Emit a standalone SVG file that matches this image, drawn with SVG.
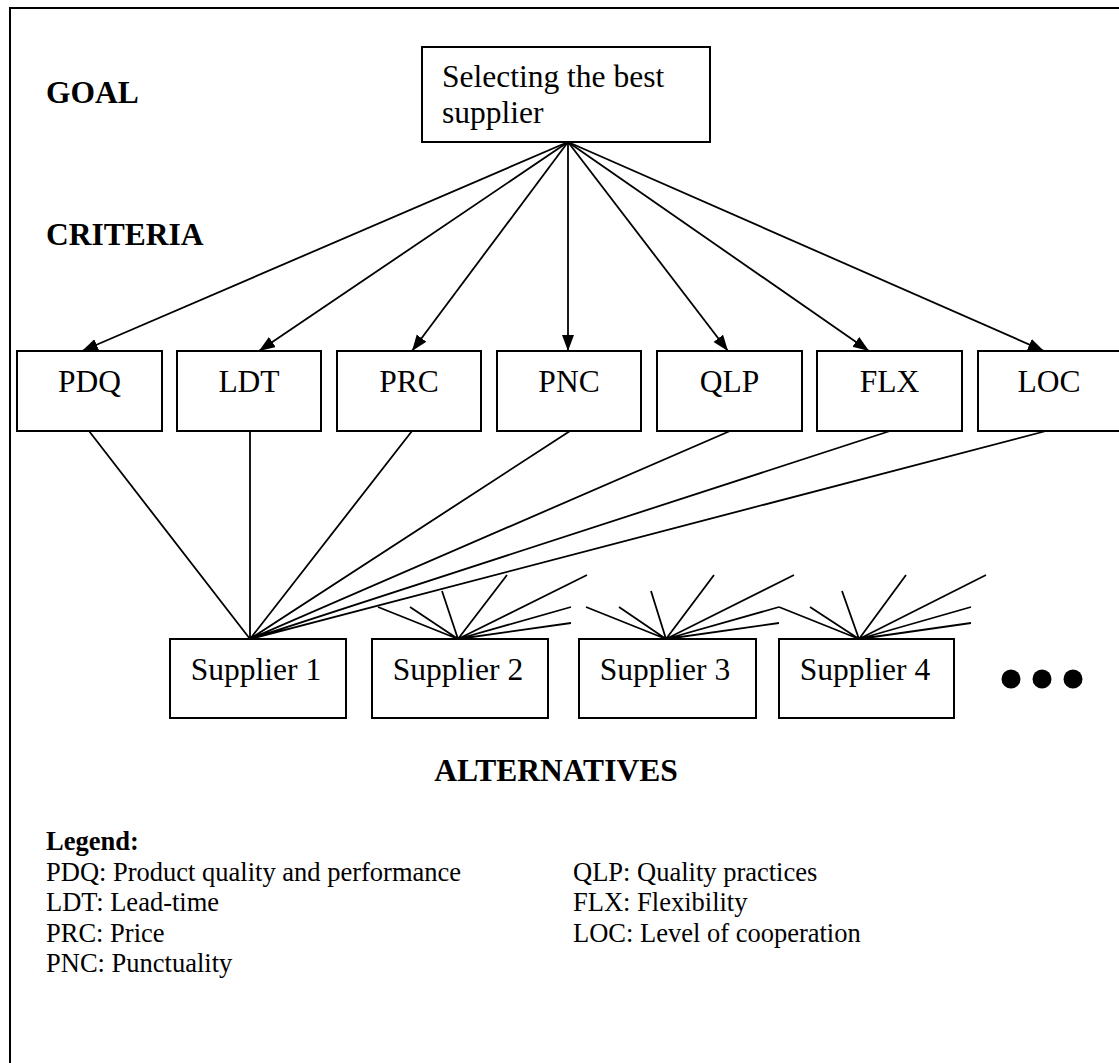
<svg xmlns="http://www.w3.org/2000/svg" width="1119" height="1063" viewBox="0 0 1119 1063">
<style>
.box{fill:#fff;stroke:#000;stroke-width:2}
.t{font-family:"Liberation Serif","Times New Roman",serif;font-size:31.5px;fill:#000}
.c{text-anchor:middle}
.b{font-weight:bold}
.lg{font-family:"Liberation Serif","Times New Roman",serif;font-size:26.5px;fill:#000}
.ln{stroke:#000;stroke-width:1.8;fill:none}
</style>
<defs>
<marker id="ah" markerUnits="userSpaceOnUse" markerWidth="17" markerHeight="13" refX="16" refY="6" orient="auto">
<path d="M0,0 L16,6 L0,12 z" fill="#000"/>
</marker>
</defs>
<rect width="1119" height="1063" fill="#fff"/>
<path d="M10,1063 V8 H1119" fill="none" stroke="#000" stroke-width="2"/>
<text class="t b" x="46" y="103">GOAL</text>
<text class="t b" x="46" y="245">CRITERIA</text>
<text class="t b c" x="556" y="781">ALTERNATIVES</text>
<g id="connectors">
<line class="ln" x1="568" y1="142" x2="82" y2="351" marker-end="url(#ah)"/>
<line class="ln" x1="568" y1="142" x2="259" y2="351" marker-end="url(#ah)"/>
<line class="ln" x1="568" y1="142" x2="412" y2="351" marker-end="url(#ah)"/>
<line class="ln" x1="568" y1="142" x2="568" y2="351" marker-end="url(#ah)"/>
<line class="ln" x1="568" y1="142" x2="728" y2="351" marker-end="url(#ah)"/>
<line class="ln" x1="568" y1="142" x2="869" y2="351" marker-end="url(#ah)"/>
<line class="ln" x1="568" y1="142" x2="1044" y2="351" marker-end="url(#ah)"/>
<path class="ln" d="M89,431 L250,639 M250,431 L250,639 M412,431 L250,639 M570,431 L250,639 M730,431 L250,639 M890,431 L250,639 M1046,431 L250,639"/>
<path class="ln" d="M378,607 L458,639 M410,607 L458,639 M442,591 L458,639 M507,575 L458,639 M587,575 L458,639 M571,607 L458,639 M571,623 L458,639"/>
<path class="ln" d="M586,607 L666,639 M619,607 L666,639 M651,591 L666,639 M714,575 L666,639 M794,575 L666,639 M779,607 L666,639 M779,623 L666,639"/>
<path class="ln" d="M779,607 L859,639 M810,607 L859,639 M842,591 L859,639 M906,575 L859,639 M986,575 L859,639 M971,607 L859,639 M971,623 L859,639"/>
</g>
<g id="goal"><rect class="box" x="422" y="47" width="288" height="95"/>
<text class="t" x="442" y="87">Selecting the best</text><text class="t" x="442" y="123">supplier</text></g>
<g id="pdq"><rect class="box" x="17" y="351" width="145" height="80"/><text class="t c" x="89.5" y="392">PDQ</text></g>
<g id="ldt"><rect class="box" x="177" y="351" width="144" height="80"/><text class="t c" x="249" y="392">LDT</text></g>
<g id="prc"><rect class="box" x="337" y="351" width="144" height="80"/><text class="t c" x="409" y="392">PRC</text></g>
<g id="pnc"><rect class="box" x="497" y="351" width="144" height="80"/><text class="t c" x="569" y="392">PNC</text></g>
<g id="qlp"><rect class="box" x="657" y="351" width="145" height="80"/><text class="t c" x="729.5" y="392">QLP</text></g>
<g id="flx"><rect class="box" x="817" y="351" width="145" height="80"/><text class="t c" x="889.5" y="392">FLX</text></g>
<g id="loc"><rect class="box" x="978" y="351" width="160" height="80"/><text class="t c" x="1049" y="392">LOC</text></g>
<g id="s1"><rect class="box" x="170" y="639" width="176" height="79"/><text class="t c" x="256" y="680">Supplier 1</text></g>
<g id="s2"><rect class="box" x="372" y="639" width="176" height="79"/><text class="t c" x="458" y="680">Supplier 2</text></g>
<g id="s3"><rect class="box" x="579" y="639" width="177" height="79"/><text class="t c" x="665" y="680">Supplier 3</text></g>
<g id="s4"><rect class="box" x="779" y="639" width="175" height="79"/><text class="t c" x="865" y="680">Supplier 4</text></g>
<g id="dots"><circle cx="1011" cy="679" r="9.5"/><circle cx="1042" cy="679" r="9.5"/><circle cx="1073" cy="679" r="9.5"/></g>
<g id="legend">
<text class="lg b" x="46" y="850">Legend:</text>
<text class="lg" x="46" y="880.5">PDQ: Product quality and performance</text>
<text class="lg" x="46" y="911">LDT: Lead-time</text>
<text class="lg" x="46" y="941.5">PRC: Price</text>
<text class="lg" x="46" y="972">PNC: Punctuality</text>
<text class="lg" x="573" y="880.5">QLP: Quality practices</text>
<text class="lg" x="573" y="911">FLX: Flexibility</text>
<text class="lg" x="573" y="941.5">LOC: Level of cooperation</text>
</g>
</svg>
